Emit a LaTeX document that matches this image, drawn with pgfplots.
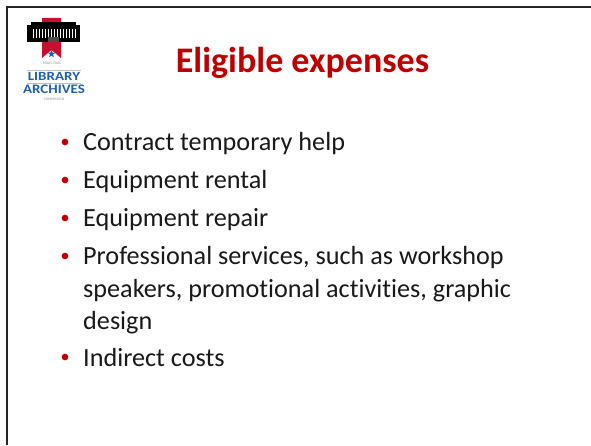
\documentclass[border=0pt]{standalone}
\usepackage{pgfplots}
\pgfplotsset{compat=1.18}
\usepackage{graphicx}
\usepackage{fontspec}
\setmainfont{Carlito}[Ligatures=NoCommon]
\usetikzlibrary{shapes.geometric}
\definecolor{slidered}{HTML}{C00000}
\definecolor{logored}{HTML}{C8102E}
\definecolor{logoblue}{HTML}{1F5FAD}

\begin{document}
\begin{tikzpicture}
  \begin{axis}[
    scale only axis,
    width=591pt, height=445pt,
    xmin=0, xmax=591, ymin=0, ymax=445,
    hide axis, clip=false,
  ]
    % bullet dots
    \addplot[only marks, mark=*, mark size=3.1pt, color=slidered, mark options={draw=slidered}]
      coordinates {(65,303)(65,265)(65,227)(65,189)(65,88)};

    % title
    \node[anchor=base, text=slidered, font=\fontsize{36}{40}\selectfont\bfseries]
      at (axis cs:302.5,372) {Eligible expenses};

    % bullet text
    \begin{scope}[every node/.style={anchor=base west, inner sep=0pt, text=black!90,
        font=\fontsize{26.2}{28}\selectfont}]
      \node at (axis cs:83,294) {Contract temporary help};
      \node at (axis cs:83,256) {Equipment rental};
      \node at (axis cs:83,218) {Equipment repair};
      \node at (axis cs:83,180) {Professional services, such as workshop};
      \node at (axis cs:83,148) {speakers, promotional activities, graphic};
      \node at (axis cs:83,116) {design};
      \node at (axis cs:83,79) {Indirect costs};
    \end{scope}
  \end{axis}

  % frame and logo, in pixel units from the top left
  \begin{scope}[yshift=445pt, x=1pt, y=-1pt]
    \draw[line width=2pt, black!85] (591,7) -- (7,7) -- (7,445);
    % ribbon
    \fill[logored] (42,18) -- (61,18) -- (61,58) -- (51.5,50) -- (42,58) -- cycle;
    % building
    \fill[black] (27,25) rectangle (80,42);
    \fill[black] (31,22) rectangle (76,25);
    \foreach \c in {33,36,...,75} {\fill[white] (\c,29) rectangle ++(1.3,9);}
    \fill[black!70] (48,37) rectangle (59,42);
    % star
    \node[star, star points=5, star point ratio=2.4, fill=logoblue, inner sep=0pt,
      minimum size=8pt] at (51.5,54) {};
    % words
    \node[text=black!45, font=\fontsize{3.6}{4}\selectfont] at (52,63) {TEXAS STATE};
    \node[text=logoblue, font=\fontsize{12.5}{12}\selectfont\bfseries]
      at (54,76.5) {\scalebox{1.2}[1]{LIBRARY}};
    \node[text=logoblue, font=\fontsize{13}{12}\selectfont\bfseries]
      at (54,89.5) {\scalebox{1.15}[1]{ARCHIVES}};
    \draw[black!25, line width=0.4pt] (27,70) -- (81,70) (27,83) -- (81,83);
    \node[text=black!45, font=\fontsize{3.6}{4}\selectfont] at (54,99.5) {COMMISSION};
  \end{scope}

  \pgfresetboundingbox
  \path[use as bounding box] (0,0) rectangle (591pt,445pt);
\end{tikzpicture}
\end{document}
